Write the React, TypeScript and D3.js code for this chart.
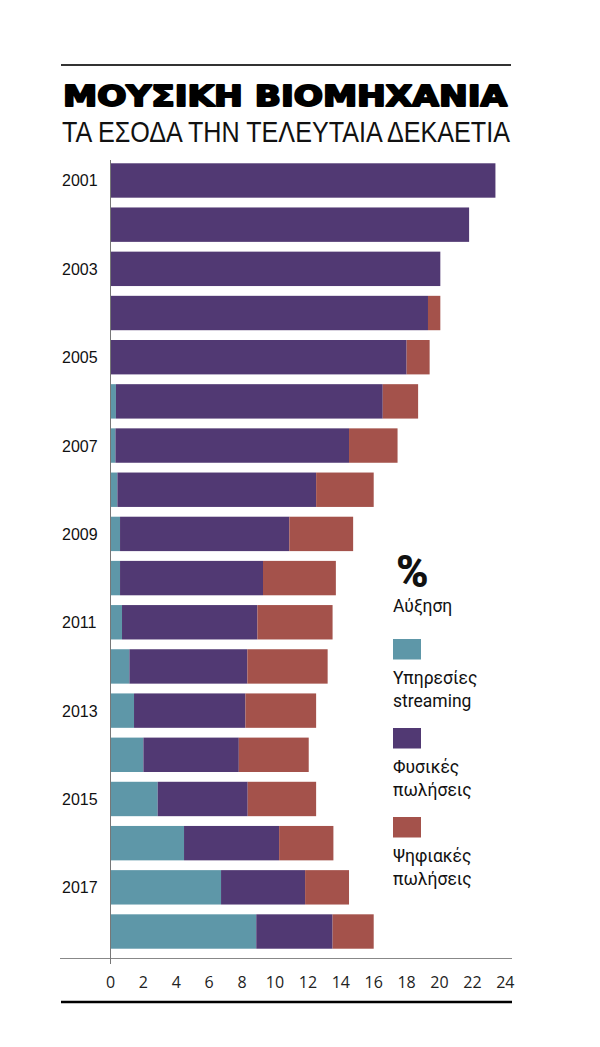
import React, { useRef, useEffect } from 'react';
import * as d3 from 'd3';

const years = [2001, 2002, 2003, 2004, 2005, 2006, 2007, 2008, 2009, 2010, 2011, 2012, 2013, 2014, 2015, 2016, 2017, 2018];
const streaming = [0, 0, 0, 0, 0, 0.33, 0.3, 0.42, 0.58, 0.58, 0.7, 1.15, 1.43, 2.0, 2.87, 4.47, 6.72, 8.86];
const physical = [23.4, 21.8, 20.05, 19.3, 18.0, 16.22, 14.2, 12.08, 10.29, 8.69, 8.23, 7.17, 6.77, 5.8, 5.47, 5.78, 5.11, 4.64];
const digital = [0, 0, 0, 0.75, 1.4, 2.15, 2.95, 3.5, 3.88, 4.43, 4.57, 4.88, 4.3, 4.25, 4.16, 3.3, 2.67, 2.5];
const xTicks = [0, 2, 4, 6, 8, 10, 12, 14, 16, 18, 20, 22, 24];

const seriesKeys = ['streaming', 'physical', 'digital'];
const colors = ['#5e97a8', '#513973', '#a4524b'];
const legendLabels = [
  ['Υπηρεσίες', 'streaming'],
  ['Φυσικές', 'πωλήσεις'],
  ['Ψηφιακές', 'πωλήσεις'],
];

const App: React.FC = () => {
  const ref = useRef<SVGSVGElement>(null);

  useEffect(() => {
    const svg = d3.select(ref.current);
    svg.selectAll('*').remove();

    const rows = years.map((y, i) => ({
      year: y,
      streaming: streaming[i],
      physical: physical[i],
      digital: digital[i],
    }));

    const x = d3.scaleLinear().domain([0, 24]).range([110.5, 505.3]);
    const y = d3
      .scaleBand<number>()
      .domain(years)
      .range([158.4, 953.6])
      .paddingInner(0.2214)
      .paddingOuter(0.1107);

    // title block
    svg.append('line')
      .attr('x1', 61).attr('x2', 511).attr('y1', 65).attr('y2', 65)
      .attr('stroke', '#333').attr('stroke-width', 2);

    svg.append('text')
      .attr('x', 63).attr('y', 106)
      .attr('font-family', '"DejaVu Sans Condensed", "DejaVu Sans", sans-serif')
      .attr('font-weight', 700)
      .attr('font-size', 28.5)
      .attr('stroke', '#000').attr('stroke-width', 1.8).attr('stroke-linejoin', 'round')
      .attr('textLength', 444).attr('lengthAdjust', 'spacingAndGlyphs')
      .text('ΜΟΥΣΙΚΗ ΒΙΟΜΗΧΑΝΙΑ');

    svg.append('text')
      .attr('x', 62).attr('y', 142.3)
      .attr('font-family', '"Liberation Sans Narrow", "Liberation Sans", sans-serif')
      .attr('font-size', 29)
      .attr('fill', '#111')
      .attr('textLength', 448).attr('lengthAdjust', 'spacingAndGlyphs')
      .text('ΤΑ ΕΣΟΔΑ ΤΗΝ ΤΕΛΕΥΤΑΙΑ ΔΕΚΑΕΤΙΑ');

    // stacked bars
    const stacked = d3.stack<any>().keys(seriesKeys)(rows);
    svg.append('g')
      .selectAll('g')
      .data(stacked)
      .join('g')
      .attr('fill', (_, i) => colors[i])
      .selectAll('rect')
      .data((d) => d)
      .join('rect')
      .attr('x', (d) => x(d[0]))
      .attr('y', (d) => y(d.data.year)!)
      .attr('width', (d) => Math.max(0, x(d[1]) - x(d[0])))
      .attr('height', y.bandwidth());

    // axes lines
    svg.append('line')
      .attr('x1', 60).attr('x2', 512).attr('y1', 958.5).attr('y2', 958.5)
      .attr('stroke', '#888').attr('stroke-width', 1);
    svg.append('line')
      .attr('x1', x(0)).attr('x2', x(0)).attr('y1', 160).attr('y2', 964)
      .attr('stroke', '#777').attr('stroke-width', 1);

    // x tick labels
    svg.append('g')
      .selectAll('text')
      .data(xTicks)
      .join('text')
      .attr('x', (d) => x(d))
      .attr('y', 987.5)
      .attr('text-anchor', 'middle')
      .attr('font-family', '"Open Sans", sans-serif')
      .attr('font-size', 16)
      .attr('fill', '#222')
      .text((d) => d);

    // year labels (odd years)
    svg.append('g')
      .selectAll('text')
      .data(years.filter((d) => d % 2 === 1))
      .join('text')
      .attr('x', 62)
      .attr('y', (d) => y(d)! + y.bandwidth() / 2 + 6)
      .attr('font-family', '"Liberation Sans", sans-serif')
      .attr('font-size', 16)
      .attr('fill', '#111')
      .text((d) => d);

    svg.append('line')
      .attr('x1', 61).attr('x2', 512).attr('y1', 1002).attr('y2', 1002)
      .attr('stroke', '#000').attr('stroke-width', 2.5);

    // legend
    const lg = svg.append('g').attr('font-family', 'Roboto, sans-serif').attr('fill', '#111');
    lg.append('text')
      .attr('x', 396).attr('y', 587)
      .attr('font-size', 44).attr('font-weight', 900)
      .text('%');
    lg.append('text')
      .attr('x', 393).attr('y', 612)
      .attr('font-size', 17.5)
      .text('Αύξηση');

    const swatchY = [639, 728, 817];
    legendLabels.forEach((lines, i) => {
      lg.append('rect')
        .attr('x', 393).attr('y', swatchY[i])
        .attr('width', 28).attr('height', 20.5)
        .attr('fill', colors[i]);
      lines.forEach((t, j) => {
        lg.append('text')
          .attr('x', 393)
          .attr('y', swatchY[i] + 44.5 + j * 23.5)
          .attr('font-size', 17.5)
          .text(t);
      });
    });
  }, []);

  return (
    <svg
      ref={ref}
      width={600}
      height={1047}
      style={{ position: 'absolute', left: 0, top: 0, background: '#fff' }}
    />
  );
};

export default App;
